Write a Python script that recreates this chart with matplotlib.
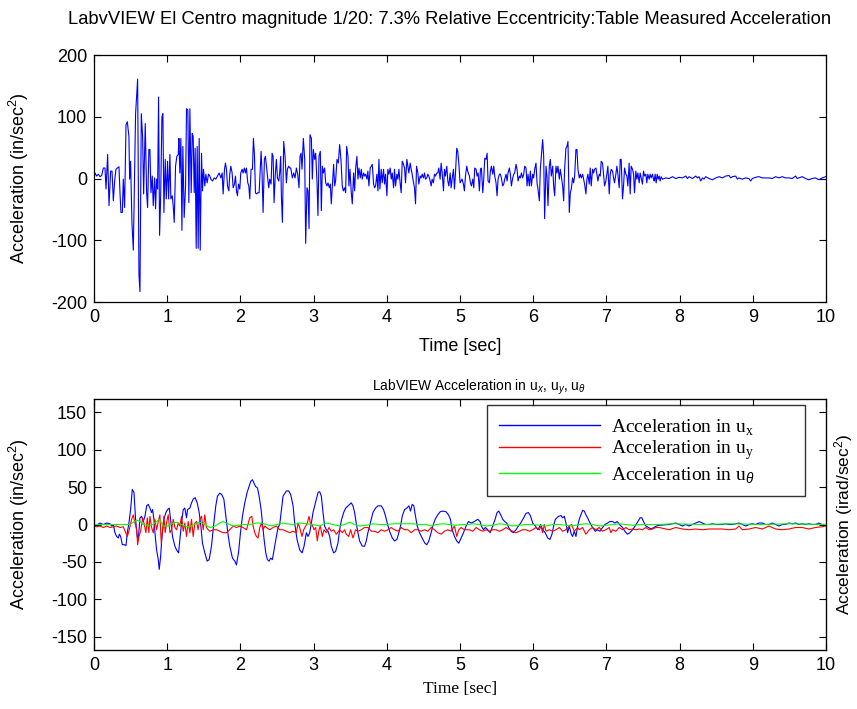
import numpy as np
import matplotlib
matplotlib.use("Agg")
import matplotlib.pyplot as plt

# ---- table measured acceleration (in/sec^2) ----
table_t = [
    0, .014, .036, .059, .082, .105, .127, .150, .164, .186,
    .205, .227, .246, .264, .282, .300, .318, .341, .355, .368,
    .387, .400, .418, .437, .455, .477, .487, .500, .518, .537,
    .550, .568, .596, .614, .628, .646, .664, .678, .700, .719,
    .732, .750, .764, .778, .796, .809, .828, .841, .855, .869,
    .882, .896, .910, .928, .941, .955, .973, .987, 1.005, 1.019,
    1.037, 1.050, 1.069, 1.082, 1.096, 1.114, 1.132, 1.151, 1.160, 1.173,
    1.187, 1.201, 1.214, 1.232, 1.251, 1.264, 1.282, 1.296, 1.310, 1.328,
    1.342, 1.355, 1.369, 1.382, 1.396, 1.410, 1.423, 1.437, 1.451, 1.469,
    1.482, 1.496, 1.514, 1.528, 1.546, 1.564, 1.583, 1.596, 1.619, 1.642,
    1.664, 1.687, 1.710, 1.733, 1.751, 1.764, 1.783, 1.796, 1.810, 1.824,
    1.842, 1.855, 1.869, 1.887, 1.901, 1.919, 1.933, 1.946, 1.960, 1.974,
    1.992, 2.005, 2.024, 2.037, 2.055, 2.069, 2.083, 2.101, 2.115, 2.128,
    2.146, 2.165, 2.178, 2.192, 2.206, 2.219, 2.237, 2.256, 2.269, 2.283,
    2.296, 2.310, 2.328, 2.342, 2.356, 2.374, 2.387, 2.401, 2.419, 2.433,
    2.447, 2.460, 2.478, 2.492, 2.506, 2.524, 2.537,
    2.551, 2.560, 2.574, 2.592, 2.610, 2.629, 2.642, 2.660, 2.674, 2.688,
    2.710, 2.729, 2.747, 2.765, 2.783, 2.801, 2.815, 2.829, 2.842, 2.860,
    2.879, 2.892, 2.910, 2.924, 2.938, 2.951, 2.970, 2.983, 2.997, 3.015,
    3.029, 3.047, 3.060, 3.074, 3.092, 3.106, 3.120, 3.133, 3.151, 3.165,
    3.183, 3.197, 3.215, 3.229, 3.242, 3.256, 3.274, 3.288, 3.301, 3.320,
    3.338, 3.356, 3.374, 3.392, 3.406, 3.424, 3.438, 3.452, 3.470, 3.483,
    3.497, 3.515, 3.529, 3.547, 3.561, 3.574, 3.592, 3.606, 3.620, 3.638,
    3.652, 3.665, 3.683, 3.697, 3.711, 3.729, 3.742, 3.756, 3.774, 3.788,
    3.802, 3.820, 3.834, 3.847, 3.865, 3.879, 3.893, 3.906, 3.924, 3.938,
    3.956, 3.970, 3.984, 4.002, 4.015, 4.029, 4.047, 4.061, 4.075, 4.093,
    4.106, 4.120, 4.138, 4.152, 4.166, 4.184, 4.197, 4.211, 4.229, 4.243,
    4.256, 4.275, 4.288, 4.302, 4.320, 4.334, 4.347, 4.366, 4.379, 4.393,
    4.407, 4.425, 4.438, 4.457, 4.470, 4.484, 4.502, 4.516, 4.529, 4.547,
    4.561, 4.575, 4.593, 4.607, 4.620, 4.638, 4.652, 4.666, 4.684, 4.697,
    4.711, 4.729, 4.743, 4.757, 4.775, 4.788, 4.802, 4.820, 4.834, 4.848,
    4.866, 4.879, 4.893, 4.911, 4.925, 4.938, 4.956, 4.970, 4.984, 5.002,
    5.015, 5.029, 5.047, 5.061, 5.075, 5.093, 5.106, 5.120,
    5.130, 5.143, 5.157, 5.175, 5.189, 5.202, 5.221, 5.234, 5.248, 5.266,
    5.280, 5.293, 5.312, 5.325, 5.339, 5.357, 5.371, 5.384, 5.402, 5.416,
    5.430, 5.448, 5.462, 5.475, 5.493, 5.507, 5.521, 5.539, 5.553, 5.566,
    5.584, 5.598, 5.612, 5.630, 5.644, 5.657, 5.675, 5.689, 5.703, 5.721,
    5.735, 5.748, 5.766, 5.780, 5.794, 5.812, 5.826, 5.839, 5.857, 5.871,
    5.885, 5.903, 5.917, 5.930, 5.948, 5.962, 5.976, 5.994, 6.007, 6.021,
    6.039, 6.053, 6.066, 6.085, 6.098, 6.112, 6.130, 6.144, 6.157, 6.176,
    6.189, 6.203, 6.221, 6.235, 6.248, 6.267, 6.280, 6.294, 6.312, 6.326,
    6.339, 6.358, 6.371, 6.385, 6.403, 6.417, 6.430, 6.448, 6.462, 6.476,
    6.494, 6.508, 6.521, 6.539, 6.553, 6.567, 6.585, 6.599, 6.612, 6.630,
    6.644, 6.658, 6.676, 6.689, 6.703, 6.721, 6.735, 6.748, 6.767, 6.780,
    6.794, 6.812, 6.826, 6.839, 6.858, 6.871, 6.885, 6.903, 6.917, 6.930,
    6.948, 6.962, 6.976, 6.994, 7.008, 7.021, 7.040, 7.053, 7.067, 7.085,
    7.099, 7.112, 7.130, 7.144, 7.158, 7.176, 7.190, 7.203, 7.221, 7.235,
    7.249, 7.267, 7.281, 7.294, 7.312, 7.326, 7.340, 7.358, 7.372, 7.385,
    7.403, 7.417, 7.431, 7.449, 7.462, 7.476, 7.494, 7.508, 7.522, 7.540,
    7.553, 7.567, 7.585, 7.599, 7.612, 7.631, 7.644,
    7.654, 7.667, 7.681, 7.695, 7.708, 7.722, 7.735, 7.749, 7.767,
    7.813, 7.858, 7.904, 7.949, 7.995, 8.040, 8.086, 8.108, 8.131, 8.176,
    8.222, 8.245, 8.267, 8.290, 8.313, 8.335, 8.358, 8.404, 8.449, 8.495,
    8.540, 8.586, 8.631, 8.677, 8.699, 8.722, 8.768, 8.790, 8.813, 8.858,
    8.904, 8.949, 8.972, 8.995, 9.040, 9.085, 9.131, 9.176, 9.222, 9.267,
    9.313, 9.358, 9.404, 9.449, 9.495, 9.540, 9.586, 9.608, 9.631, 9.676,
    9.722, 9.767, 9.813, 9.858, 9.904, 9.949, 9.995,
]
table_acc = [
    1, 9, 4, 7, 3, 5, 17, 17, -17, 39,
    -44, 12, 12, -36, -4, 15, 17, 19, -23, -55,
    -55, -1, -47, 87, 92, 68, -1, 28, -71, -116,
    -23, 105, 161, -156, -183, 105, 68, -25, 89, -23,
    -47, 47, 47, -23, 4, -44, 1, -49, -1, -17,
    132, -92, -33, 100, 105, -55, 31, -33, 28, -33,
    39, -33, -28, -44, -71, 20, 36, 39, 65, 9,
    65, -84, 52, -63, -12, 113, 111, -39, 113, -23,
    73, 68, -23, 49, -113, 52, -113, 65, -116, 41,
    -20, 15, -12, 7, -7, 7, 4, -1, -4, 1,
    -1, 4, 9, 1, 9, -25, 15, 25, 15, -12,
    -20, 7, 20, 9, -15, -9, 4, -20, -28, -9,
    -17, 9, 15, 9, 17, 9, 17, -7, -12, -33,
    15, 15, 65, 39, -23, -25, -23, -23, 9, 44,
    9, -55, 31, 36, 20, -1, -15, -1, -9, 41,
    36, -39, 9, 31, 1, -4, 9,
    36, -28, -71, 60, 36, -7, 15, 20, 17, 17,
    1, 9, 1, 17, 7, -15, 36, 41, 15, 65,
    31, -105, -15, -20, -81, 71, 65, -1, 47, 31,
    41, -7, -60, 36, 44, -52, 20, 9, 17, -7,
    -12, -7, -15, -9, -41, -12, 23, -12, -4, 31,
    25, 55, 31, -12, -20, -15, -23, 52, 36, -12,
    15, -23, -41, 9, -20, 15, 36, -1, 17, 1,
    15, -1, 9, 4, 7, -1, 12, -12, 17, 20,
    23, -9, -15, -12, 7, -20, 31, -17, 15, -7,
    15, -9, 7, -28, 15, 7, 17, -1, 9, -15,
    15, -12, 7, -1, 15, -9, -23, 28, 23, 17,
    -7, 31, 20, 9, 25, 15, 7, -7, -15, -41,
    20, 9, -9, 4, 1, 7, 1, 9, -1, 1,
    7, 4, -4, -12, -1, -7, 7, 4, 9, 9,
    17, -1, 25, 9, -20, 15, 4, 20, -4, -12,
    9, -15, -1, 15, -17, 7, 49, 44, 25, -7,
    -4, -1, -9, -20, 4, 20, 12, 7,
    4, -7, -12, -1, -15, 17, 15, 4, 9, -20,
    15, 17, -23, -1, 33, 31, 41, -4, -7, 12,
    20, 7, 20, 4, -7, -28, -1, 7, 7, 1,
    -12, -9, -1, 7, -4, 9, 17, 7, -12, 1,
    7, 9, 23, 15, -4, 4, 1, 9, 1, 7,
    20, 17, -12, 7, -12, 12, -12, 7, 1, 15,
    25, -7, -17, -36, 15, 36, 63, 36, -65, 20,
    4, -44, 20, 31, 4, 20, -12, -28, 20, 9,
    20, -1, 15, 4, -12, -36, 15, 49, 52, 60,
    -55, -23, -17, 1, -7, 4, 47, 47, 15, 1,
    7, 1, 7, -1, -9, -25, -1, 7, -9, 17,
    -12, 15, 9, 15, 17, 7, -4, 7, 4, 28,
    25, 7, -12, -4, 9, 20, -25, 7, 15, 12,
    1, -7, 7, 20, 7, -15, 31, 31, -33, -12,
    17, 7, 4, -12, 25, -25, 20, 15, 7, -23,
    12, -1, 9, -7, 9, 1, -9, 12, 4, 7,
    -7, 7, -1, 7, 1, 7, -1,
    -4, 7, -7, 7, -1, 4, -4, 3, -1,
    1, 0, 3, 0, 2, 1, 4, 0, 3, 0,
    4, 1, 3, -4, 1, -1, 3, 0, -2, 1,
    3, 1, 4, 5, 1, 3, 4, -1, 1, -1,
    1, 0, -4, 0, 2, 3, 1, 1, 1, 0,
    3, 1, 3, 1, 1, 0, 4, 0, 1, 3,
    0, -2, 0, 1, -2, 1, 3,
]

# ---- acceleration in u_x (in/sec^2) ----
ux_t = [
    0, .036, .082, .127, .173, .218, .241, .264, .286, .309,
    .332, .346, .364, .387, .414, .437, .455, .477, .500, .523,
    .546, .568, .591, .605, .628, .650, .673, .696, .719, .741,
    .764, .787, .800, .819, .837, .855, .878, .891, .910, .928,
    .955, .982, 1.005, 1.028, 1.046, 1.073, 1.105, 1.128, 1.155, 1.173,
    1.196, 1.219, 1.241, 1.264, 1.278, 1.310, 1.332, 1.355, 1.382, 1.410,
    1.437, 1.460, 1.482, 1.514, 1.546, 1.573, 1.605, 1.637, 1.664, 1.687,
    1.719, 1.746, 1.774, 1.801, 1.828, 1.855, 1.892, 1.924, 1.946, 1.974,
    2.001, 2.028, 2.060, 2.092, 2.119, 2.142, 2.165, 2.183, 2.206, 2.233,
    2.256, 2.283, 2.301, 2.324, 2.347, 2.369, 2.392, 2.415, 2.437, 2.469,
    2.492, 2.515, 2.537,
    2.583, 2.629, 2.660, 2.688, 2.720, 2.742, 2.774, 2.811, 2.843, 2.870,
    2.901, 2.924, 2.947, 2.970, 2.992, 3.015, 3.038, 3.061, 3.083, 3.106,
    3.129, 3.151, 3.174, 3.197, 3.220, 3.242, 3.274, 3.301, 3.333, 3.356,
    3.383, 3.411, 3.438, 3.470, 3.493, 3.515, 3.538, 3.561, 3.583, 3.606,
    3.629, 3.665, 3.697, 3.720, 3.742, 3.765, 3.788, 3.811, 3.847, 3.879,
    3.924, 3.956, 3.984, 4.006, 4.038, 4.075, 4.106, 4.138, 4.165, 4.188,
    4.211, 4.243, 4.275, 4.302, 4.325, 4.347, 4.370, 4.393, 4.416, 4.447,
    4.484, 4.520, 4.547, 4.575, 4.606, 4.629, 4.661, 4.697, 4.729, 4.765,
    4.811, 4.843, 4.870, 4.893, 4.925, 4.956, 4.984, 5.016, 5.048, 5.084,
    5.116,
    5.152, 5.198, 5.243, 5.275, 5.293, 5.321, 5.348, 5.380, 5.412, 5.448,
    5.480, 5.507, 5.530, 5.557, 5.584, 5.612, 5.639, 5.666, 5.698, 5.730,
    5.766, 5.798, 5.830, 5.871, 5.903, 5.935, 5.962, 5.994, 6.030, 6.066,
    6.103, 6.130, 6.166, 6.198, 6.230, 6.257, 6.280, 6.303, 6.326, 6.348,
    6.380, 6.403, 6.426, 6.448, 6.471, 6.494, 6.521, 6.539, 6.562, 6.585,
    6.608, 6.630, 6.653, 6.676, 6.699, 6.721, 6.744, 6.767, 6.790, 6.812,
    6.849, 6.881, 6.912, 6.948, 6.980, 7.017, 7.049, 7.085, 7.117, 7.149,
    7.180, 7.221, 7.253, 7.290, 7.321, 7.358, 7.394, 7.431, 7.462, 7.485,
    7.508, 7.540, 7.576, 7.612, 7.649, 7.685, 7.722,
    7.858, 7.904, 7.949, 7.995, 8.040, 8.086, 8.131, 8.176, 8.222, 8.267,
    8.313, 8.358, 8.404, 8.449, 8.495, 8.540, 8.586, 8.631, 8.677, 8.722,
    8.768, 8.813, 8.858, 8.904, 8.949, 8.995, 9.040, 9.085, 9.131, 9.176,
    9.222, 9.267, 9.313, 9.358, 9.404, 9.449, 9.495, 9.540, 9.586, 9.631,
    9.676, 9.722, 9.767, 9.813, 9.858, 9.904, 9.949, 9.995,
]
ux = [
    0, -1, 2, 0, 2, 1, -2, 0, -11, -16,
    -18, -13, -16, -27, -27, -28, -11, 2, 20, 47,
    43, 7, -16, -20, 9, 11, 4, 11, 25, 27,
    22, 16, 20, 7, -16, -34, -47, -60, -43, -16,
    7, 16, 20, 22, 7, -16, -29, -34, -38, -20,
    2, 20, 22, 9, 20, 22, 29, 34, 36, 29,
    16, -2, -25, -38, -49, -47, -29, 2, 25, 38,
    42, 40, 34, 11, -11, -29, -45, -49, -54, -38,
    -11, 11, 29, 43, 51, 58, 60, 56, 51, 49,
    38, 20, 2, -20, -38, -47, -49, -45, -47, -29,
    -16, -4, 0,
    38, 45, 45, 40, 25, 2, -20, -34, -38, -29,
    -11, -16, -11, 2, 16, 25, 34, 43, 44, 38,
    16, -2, -7, -9, -16, -29, -38, -36, -25, -7,
    7, 16, 22, 25, 27, 29, 25, 16, 2, -11,
    -22, -29, -29, -22, -11, -2, 7, 16, 22, 25,
    25, 20, 11, 2, -9, -18, -22, -20, -11, -2,
    11, 20, 22, 25, 18, 27, 25, 11, -2, -11,
    -18, -25, -27, -22, -11, -2, 7, 13, 17, 18,
    17, 13, 7, -7, -16, -22, -25, -18, -11, -2,
    4,
    2, 4, 7, 4, -2, -7, -4, -7, -11, -2,
    7, 16, 18, 13, 7, 4, 2, -4, -9, -11,
    -7, -2, 2, 9, 15, 16, 12, 2, -2, -7,
    0, -7, -11, -18, -20, -13, -2, 7, 9, 11,
    12, 9, 11, 2, -11, -2, -13, -16, -9, -16,
    -2, 7, 13, 19, 18, 13, 9, 4, 0, -4,
    -9, -7, -9, -4, 0, 2, 4, 4, 2, 4,
    0, -4, -9, -13, -11, -7, -2, 4, 9, 9,
    4, -2, -4, -6, -4, -2, -1,
    0, 1, 2, 0, -2, 0, -2, 0, 2, 4,
    2, 0, 0, 1, 0, 0, 0, 1, 0, 0,
    1, 2, 0, -2, 0, 1, 0, 2, 2, 0,
    0, 2, 0, -2, 0, 0, 2, 1, 2, 0,
    1, 0, 1, 0, 0, 2, 0, 0,
]

# ---- acceleration in u_y (in/sec^2) ----
uy_t = [
    0, .036, .082, .127, .173, .218, .264, .309, .355, .400,
    .455, .482, .514, .537, .559, .582, .596, .614, .637, .664,
    .687, .709, .728, .750, .764, .787, .809, .832, .855, .878,
    .900, .919, .937, .955, .973, .991, 1.014, 1.037, 1.060, 1.082,
    1.105, 1.128, 1.151, 1.173, 1.196, 1.219, 1.241, 1.264, 1.287, 1.310,
    1.332, 1.355, 1.378, 1.401, 1.423, 1.446, 1.469, 1.492, 1.514, 1.537,
    1.560, 1.583, 1.628, 1.674, 1.719, 1.764, 1.810, 1.855, 1.901, 1.946,
    1.992, 2.037, 2.083, 2.128, 2.156, 2.174, 2.196, 2.219, 2.242, 2.265,
    2.287, 2.310, 2.333, 2.356, 2.401, 2.447, 2.492, 2.537,
    2.583, 2.629, 2.674, 2.719, 2.765, 2.788, 2.810, 2.842, 2.865, 2.892,
    2.915, 2.938, 2.956, 2.979, 3.006, 3.029, 3.051, 3.074, 3.092, 3.120,
    3.142, 3.174, 3.211, 3.242, 3.274, 3.311, 3.356, 3.392, 3.424, 3.447,
    3.479, 3.506, 3.538, 3.574, 3.606, 3.652, 3.697, 3.743, 3.788, 3.834,
    3.879, 3.925, 3.970, 4.016, 4.061, 4.106, 4.152, 4.197, 4.243, 4.288,
    4.334, 4.379, 4.425, 4.470, 4.516, 4.561, 4.607, 4.652, 4.698, 4.743,
    4.788, 4.834, 4.880, 4.925, 4.956, 4.984, 5.016, 5.061, 5.116,
    5.130, 5.175, 5.221, 5.266, 5.312, 5.357, 5.402, 5.448, 5.493, 5.539,
    5.584, 5.630, 5.675, 5.721, 5.766, 5.812, 5.857, 5.903, 5.948, 5.994,
    6.039, 6.085, 6.107, 6.130, 6.153, 6.176, 6.221, 6.267, 6.312, 6.358,
    6.403, 6.448, 6.494, 6.526, 6.562, 6.608, 6.630, 6.676, 6.721, 6.767,
    6.812, 6.858, 6.903, 6.948, 6.994, 7.040, 7.062, 7.085, 7.130, 7.176,
    7.221, 7.267, 7.312, 7.358, 7.403, 7.449, 7.494, 7.540, 7.585, 7.631,
    7.676, 7.722,
    7.858, 7.949, 8.040, 8.131, 8.222, 8.313, 8.404, 8.495, 8.586, 8.677,
    8.768, 8.813, 8.858, 8.949, 9.040, 9.131, 9.222, 9.313, 9.404, 9.495,
    9.586, 9.676, 9.767, 9.858, 9.949, 9.995,
]
uy = [
    -2, -3, -2, -4, -2, -4, -3, -2, -4, -3,
    -16, -7, 7, 13, 2, -7, -27, -16, -9, 9,
    0, -11, 9, -11, 11, -4, -11, 7, -7, 4,
    13, -25, -7, 11, -11, 2, 13, -11, -7, 7,
    -4, -7, 2, -2, 11, -9, 2, -16, 4, -11,
    7, -16, 2, 4, -7, 7, 11, -7, 13, -4,
    -7, -9, -7, -7, -9, -11, -11, -7, -2, -4,
    -2, -4, -7, 9, 11, -2, -11, -16, -18, -4,
    2, -7, -2, -4, -7, -4, -2, -7,
    -7, -9, -11, -9, -11, 2, -4, -16, -7, -2,
    2, 11, 2, 0, -7, -4, -22, -7, -2, -16,
    -7, -11, -4, -9, -7, -13, -7, -11, -7, -13,
    -16, -7, -18, -7, -9, -7, -4, -4, -9, -9,
    -11, -7, -9, -7, -4, -7, -9, -4, -7, -7,
    -11, -7, -7, -9, -7, -9, -4, -7, -11, -13,
    -9, -7, -9, -2, -16, -7, -4, -7, -7,
    -7, -9, -4, -7, -9, -7, -9, -7, -7, -9,
    -7, -4, -7, -9, -11, -9, -7, -7, -9, -7,
    -4, -7, -2, -11, 0, -9, -7, -9, -7, -4,
    -9, -7, -2, 0, -9, -4, -7, -4, -13, -7,
    -4, -7, -4, -9, -7, -4, -11, -7, -9, -4,
    -7, -4, -7, -6, -7, -6, -7, -4, -7, -6,
    -4, -4,
    -7, -4, -6, -7, -6, -7, -6, -6, -6, -7,
    -6, -2, -7, -6, -4, -6, -2, -6, -7, -6,
    -4, -4, -6, -4, -3, -2,
]

# ---- acceleration in u_theta (irad/sec^2) ----
ut_t = [
    0, .400, .491, .582, .628, .673, .764, .832, .891, .946,
    1.014, 1.082, 1.137, 1.196, 1.264, 1.332, 1.401, 1.455, 1.514, 1.583,
    1.651, 1.719, 1.764, 1.833, 1.901, 1.969, 2.037, 2.128, 2.219, 2.287,
    2.356, 2.424, 2.492,
    2.583, 2.629, 2.720, 2.811, 2.901, 2.992, 3.083, 3.174, 3.265, 3.356,
    3.424, 3.493, 3.561, 3.629, 3.720, 3.811, 3.902, 3.993, 4.083, 4.174,
    4.265, 4.356, 4.447, 4.538, 4.606, 4.675, 4.765, 4.856, 4.947, 5.038,
    5.116,
    5.175, 5.266, 5.357, 5.448, 5.539, 5.630, 5.721, 5.812, 5.903, 5.994,
    6.085, 6.176, 6.267, 6.358, 6.448, 6.539, 6.630, 6.721, 6.812, 6.903,
    6.994, 7.085, 7.176, 7.267, 7.358, 7.449, 7.540, 7.631, 7.722,
    7.9, 8.3, 8.7, 9.1, 9.5, 10.0,
]
ut = [
    0, 0, 0, 6, 4, 0, -2, 2, 7, -2,
    -2, 2, 3, 0, -3, -2, 2, 3, 0, -4,
    -2, 2, 4, 1, -2, -1, 0, 0, 2, 2,
    0, -2, 0,
    2, 1, 0, 2, 1, 0, -2, 2, 0, -2,
    0, 3, 0, -2, -1, 1, 0, 0, 1, 1,
    1, 1, 0, 0, -2, 0, 1, 0, -1, 0,
    0,
    1, 0, -2, -1, 1, 0, -2, -1, 0, 0,
    -1, -2, 0, 0, -1, -2, 0, 1, 0, -2,
    -1, 0, 1, 0, -1, 0, 0, 0, 0,
    1, 0, 1, 0, 1, 0,
]

x_ticks = list(range(0, 11))
top_yticks = [-200, -100, 0, 100, 200]
bot_yticks = [-150, -100, -50, 0, 50, 100, 150]

sans = "Liberation Sans"
serif = "Liberation Serif"
plt.rcParams['font.family'] = [sans, 'DejaVu Sans']
plt.rcParams['axes.unicode_minus'] = False
plt.rcParams['mathtext.fontset'] = 'custom'
plt.rcParams['mathtext.rm'] = sans
plt.rcParams['mathtext.it'] = sans + ':italic'

fig = plt.figure(figsize=(8.57, 7.09), dpi=100)

def style_axis(ax):
    ax.tick_params(direction='in', length=5, width=0.8, labelsize=13,
                   top=True, right=True, pad=5)
    for s in ax.spines.values():
        s.set_linewidth(0.9)

# top panel
ax1 = fig.add_axes([0.1097, 0.574, 0.854, 0.3484])
ax1.plot(table_t, table_acc, color='blue', lw=0.8)
ax1.set_xlim(0, 10)
ax1.set_ylim(-200, 200)
ax1.set_xticks(x_ticks)
ax1.set_yticks(top_yticks)
style_axis(ax1)
ax1.set_title('LabvVIEW El Centro magnitude 1/20: 7.3% Relative Eccentricity:Table Measured Acceleration',
              fontsize=13.2, pad=22, x=0.486)
ax1.set_xlabel('Time [sec]', fontsize=13, labelpad=9)
ax1.set_ylabel('Acceleration (in/sec$^2$)', fontsize=13, labelpad=14)

# bottom panel
ax2 = fig.add_axes([0.1097, 0.0832, 0.854, 0.354])
l1, = ax2.plot(ux_t, ux, color='blue', lw=0.8)
l2, = ax2.plot(uy_t, uy, color='red', lw=0.8)
ax2.set_xlim(0, 10)
ax2.set_ylim(-168, 168)
ax2.set_xticks(x_ticks)
ax2.set_yticks(bot_yticks)
style_axis(ax2)
ax2.tick_params(right=False)
ax2.set_title('LabVIEW Acceleration in u$_x$, u$_y$, u$_\\theta$', fontsize=10, pad=6, x=0.526)
ax2.set_xlabel('Time [sec]', fontsize=12.5, family=serif, labelpad=5)
ax2.set_ylabel('Acceleration (in/sec$^2$)', fontsize=13, labelpad=14)

ax3 = ax2.twinx()
l3, = ax3.plot(ut_t, ut, color='#00ff00', lw=0.8)
ax3.set_ylim(-168, 168)
ax3.set_yticks(bot_yticks)
ax3.set_yticklabels([])
ax3.tick_params(direction='in', length=5, width=0.8)
ax3.set_ylabel('Acceleration (irad/sec$^2$)', fontsize=12.5, labelpad=1)

leg = ax3.legend([l1, l2, l3],
                 ['Acceleration in u$_\\mathregular{x}$', 'Acceleration in u$_\\mathregular{y}$',
                  'Acceleration in u$_\\theta$'],
                 loc='upper left', bbox_to_anchor=(0.537, 0.611, 0.434, 0.365),
                 mode='expand', prop={'family': serif, 'size': 14},
                 handlelength=5.2, handletextpad=0.55,
                 frameon=True, fancybox=False, edgecolor='black',
                 borderpad=0.6, labelspacing=0.12, borderaxespad=0)
leg.get_frame().set_linewidth(1.0)
for h in leg.get_lines():
    h.set_linewidth(1.0)

fig.savefig('out.png', dpi=100)
